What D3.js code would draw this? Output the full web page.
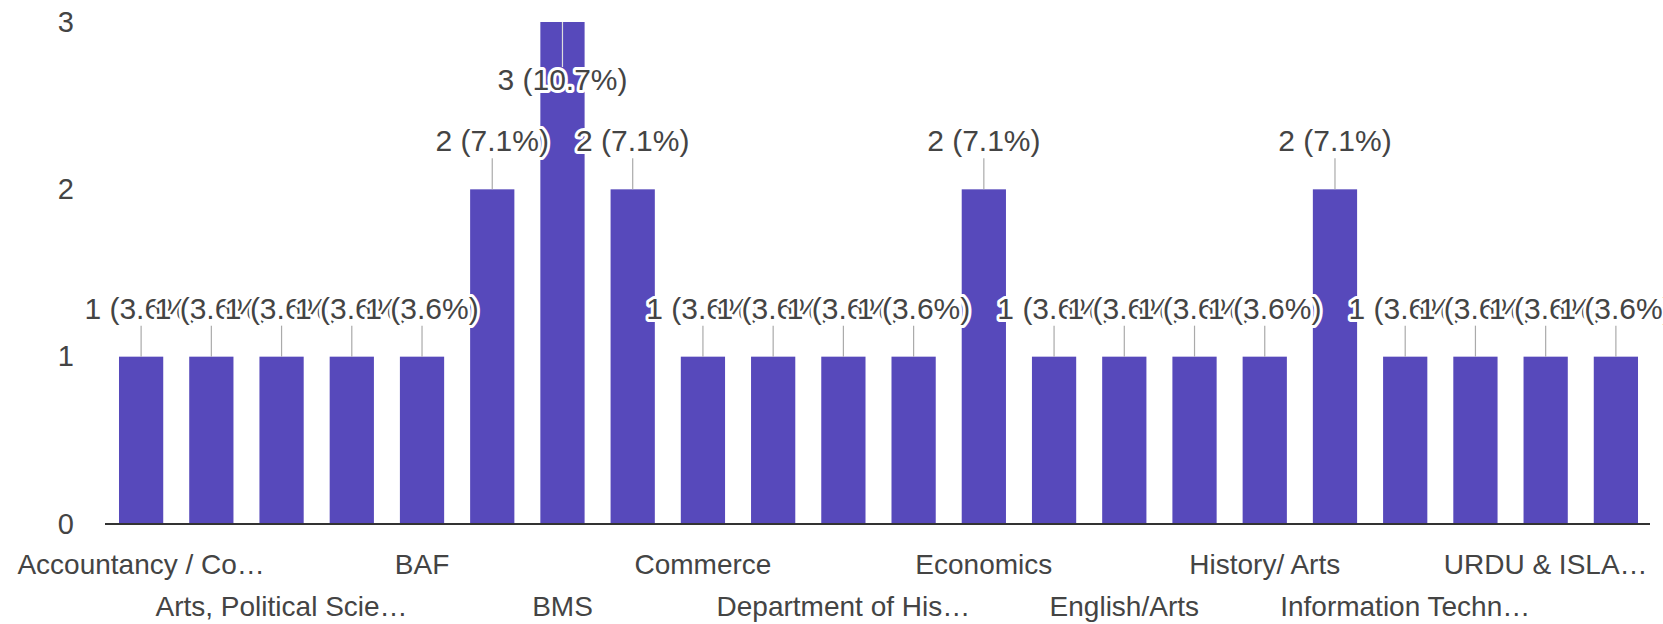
<!DOCTYPE html>
<html>
<head>
<meta charset="utf-8">
<script src="https://cdn.jsdelivr.net/npm/d3@7"></script>
<style>
  body { margin: 0; background: #fff; }
  svg { display: block; font-family: "Liberation Sans", Arial, sans-serif; }
</style>
</head>
<body>
<svg width="1663" height="624"></svg>
<script>
// one bar per answer, only every other name fits under the axis
var tickLabels = ["Accountancy / Co…", "", "Arts, Political Scie…", "", "BAF", "", "BMS", "",
  "Commerce", "", "Department of His…", "", "Economics", "", "English/Arts", "",
  "History/ Arts", "", "Information Techn…", "", "URDU & ISLA…", ""];
var counts = [1, 1, 1, 1, 1, 2, 3, 2, 1, 1, 1, 1, 2, 1, 1, 1, 1, 2, 1, 1, 1, 1];
var yTicks = [0, 1, 2, 3];

var barColor = "#5749bb";
var textColor = "#444";

var svg = d3.select("svg");
var total = d3.sum(counts);

var x = d3.scaleBand()
    .domain(d3.range(counts.length))
    .range([106, 1651])
    .paddingInner(0.37)
    .paddingOuter(0.185);

var y = d3.scaleLinear().domain([0, 3]).range([524, 22]);

// y axis, just the numbers
var yAxis = svg.append("g")
    .attr("transform", "translate(78,0)")
    .call(d3.axisLeft(y).tickValues(yTicks).tickFormat(d3.format("d")).tickSize(0).tickPadding(4));
yAxis.select(".domain").remove();
yAxis.selectAll("text")
    .attr("font-size", 29)
    .attr("font-family", "Liberation Sans, Arial, sans-serif")
    .attr("fill", textColor);

svg.append("g").selectAll("rect")
    .data(counts)
    .enter()
    .append("rect")
    .attr("x", function(d, i) { return x(i); })
    .attr("y", function(d) { return y(d); })
    .attr("width", x.bandwidth())
    .attr("height", function(d) { return y(0) - y(d); })
    .attr("fill", barColor);

// x axis with labels on two alternating rows
var xAxis = svg.append("g")
    .attr("transform", "translate(0," + y(0) + ")")
    .call(d3.axisBottom(x).tickSize(0).tickSizeOuter(0)
      .tickFormat(function(i) { return tickLabels[i]; }));
xAxis.select(".domain")
    .attr("d", "M105,0H1650")
    .attr("stroke", "#333")
    .attr("stroke-width", 2);
xAxis.selectAll("text")
    .attr("font-size", 28)
    .attr("font-family", "Liberation Sans, Arial, sans-serif")
    .attr("fill", textColor)
    .attr("dy", null)
    .attr("y", function(i) { return (i / 2) % 2 == 0 ? 50 : 92; });

// where the value label goes: above the bar, or inside it when no room
function labelY(d) {
  var ly = y(d) - 38;
  if (ly - 22 < 0) ly = y(d) + 68;
  return ly;
}

svg.append("g").selectAll("line")
    .data(counts)
    .enter()
    .append("line")
    .attr("x1", function(d, i) { return x(i) + x.bandwidth() / 2; })
    .attr("x2", function(d, i) { return x(i) + x.bandwidth() / 2; })
    .attr("y1", function(d) { return y(d); })
    .attr("y2", function(d) {
      var ly = labelY(d);
      return ly > y(d) ? ly - 23 : ly + 7;
    })
    .attr("stroke", function(d) { return labelY(d) > y(d) ? "#ddd" : "#aaa"; })
    .attr("stroke-width", 1.2);

svg.append("g").selectAll("text")
    .data(counts)
    .enter()
    .append("text")
    .attr("x", function(d, i) { return x(i) + x.bandwidth() / 2; })
    .attr("y", labelY)
    .attr("text-anchor", "middle")
    .attr("font-size", 30)
    .attr("fill", textColor)
    .attr("stroke", "#fff")
    .attr("stroke-width", 6)
    .attr("stroke-linejoin", "round")
    .attr("paint-order", "stroke")
    .text(function(d) { return d + " (" + (d / total * 100).toFixed(1) + "%)"; });
</script>
</body>
</html>
